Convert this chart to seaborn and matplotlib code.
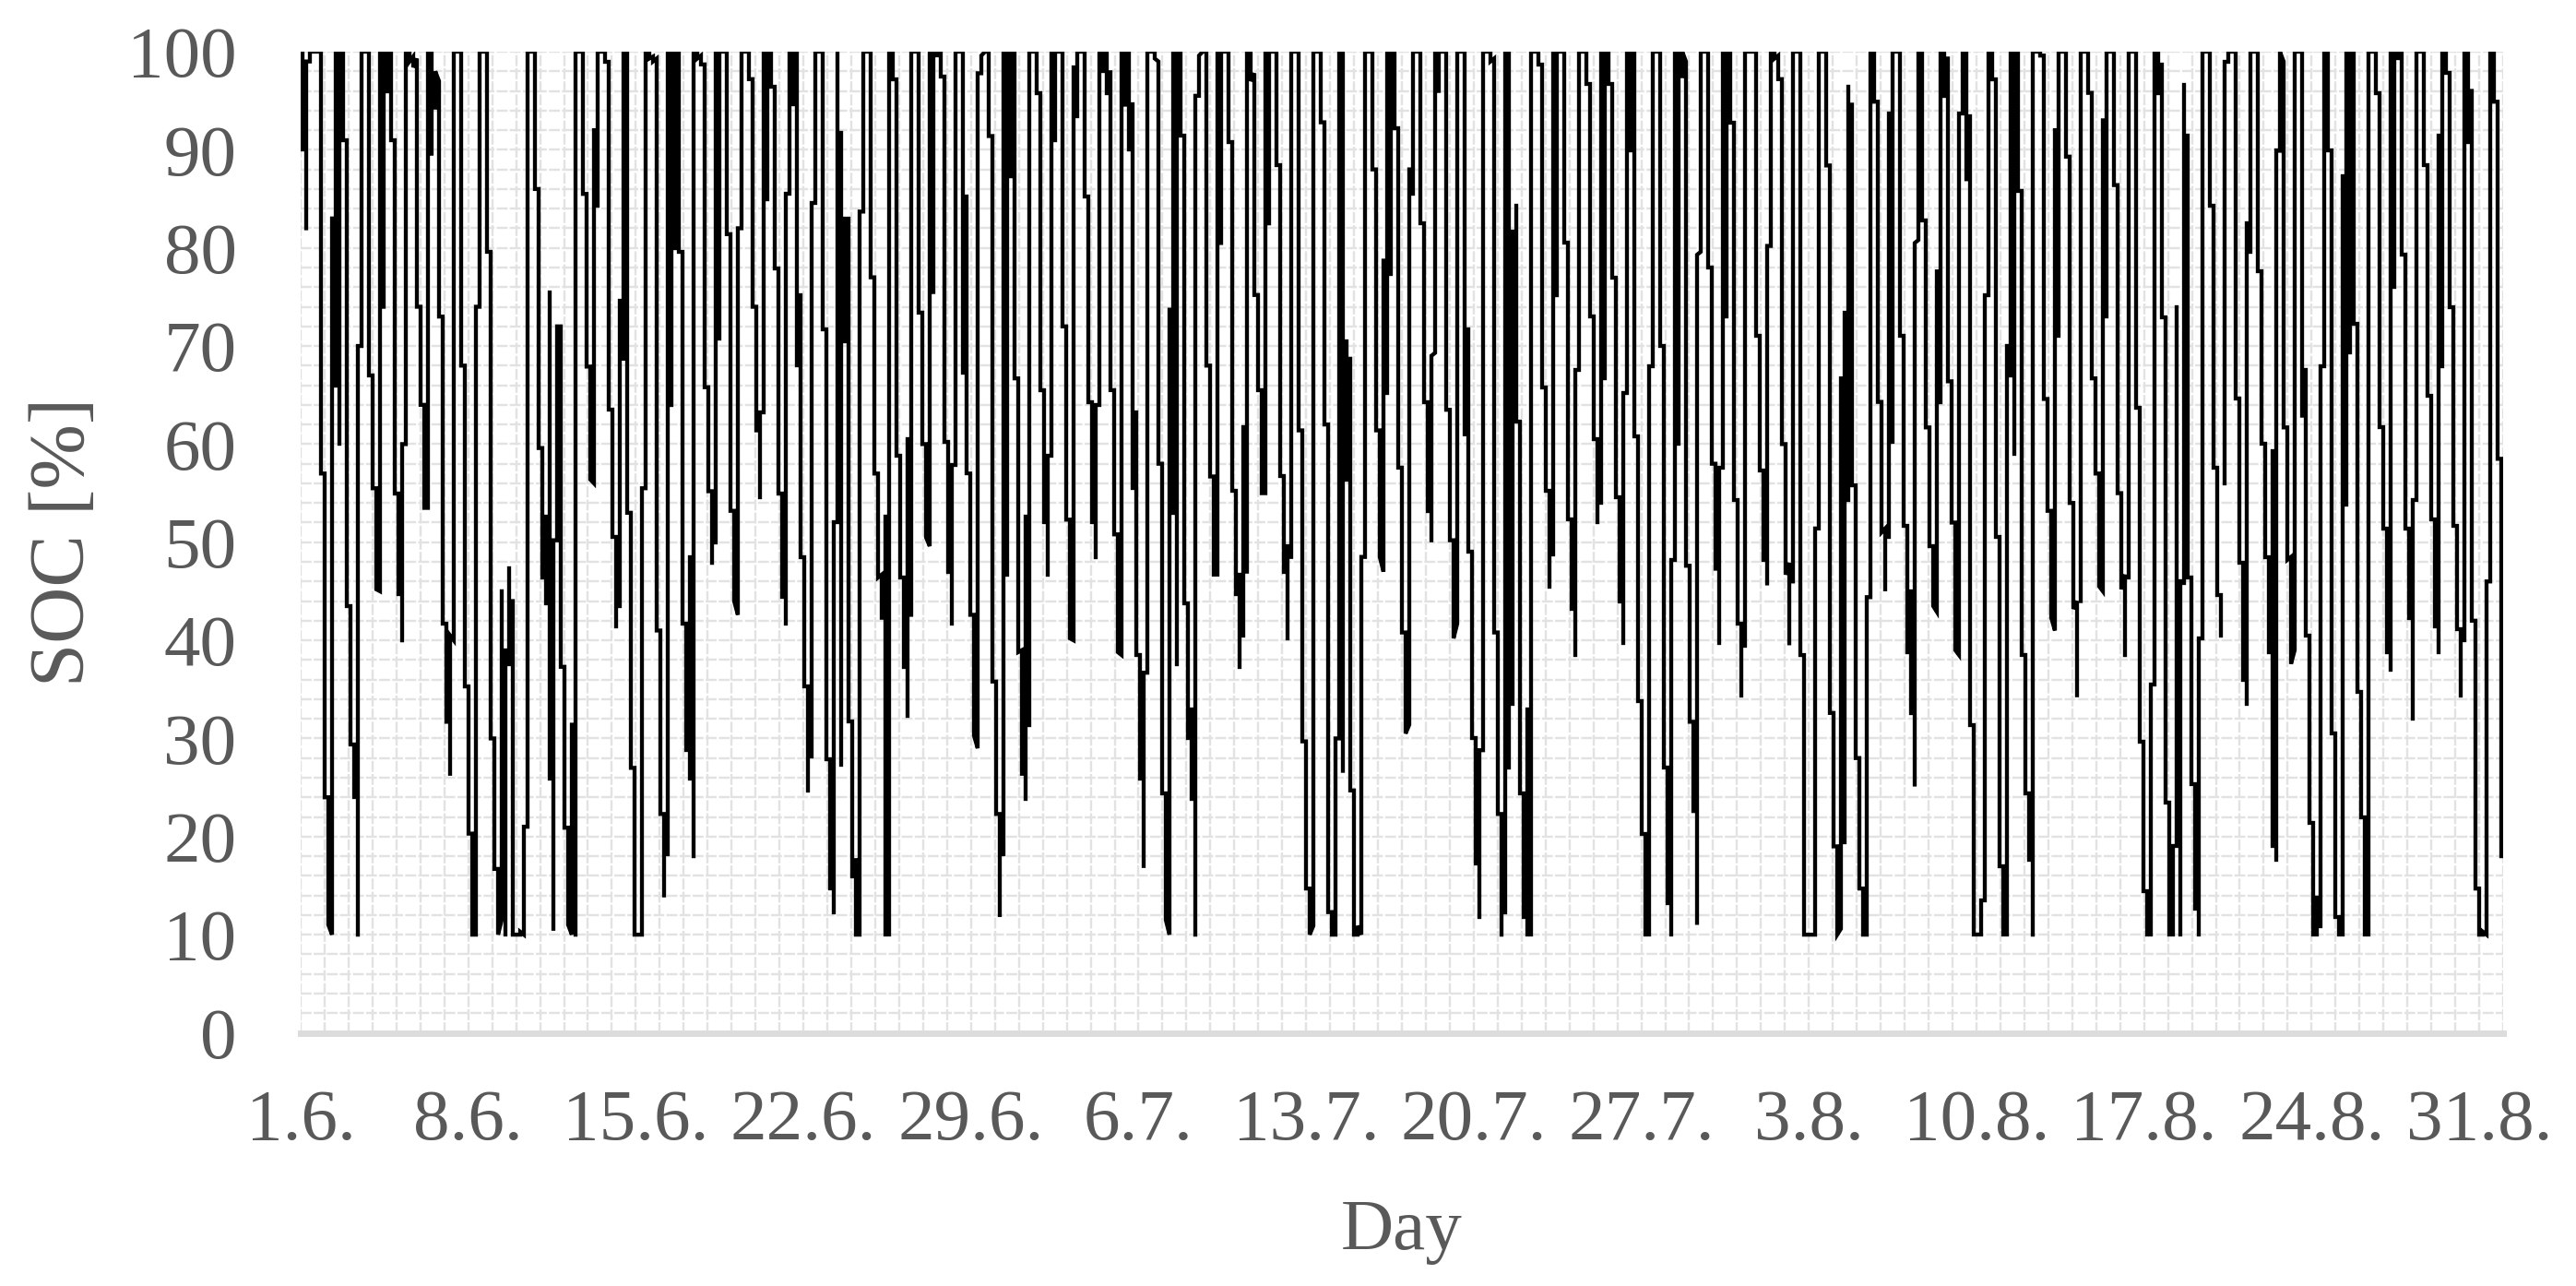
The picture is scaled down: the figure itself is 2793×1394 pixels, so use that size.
from matplotlib import pyplot as plt
import seaborn as sns
import pandas as pd

# SOC range covered by each pixel column of the curve
soc_high_jun = [
    100, 99, 100, 100, 100, 100, 57, 24, 83, 100,
    100, 100, 91, 43.5, 29.4, 70, 100, 100, 100, 67,
    55.5, 100, 100, 100, 100, 91, 55, 60, 100, 100,
    99.5, 99.3, 74, 64, 100, 100, 98, 97, 73, 41.7,
    40.5, 100, 100, 100, 68, 35.3, 20.3, 74, 100, 100,
    100, 79.6, 30, 16.7, 45, 39, 47.3, 44, 10, 10.3,
    21, 100, 100, 100, 86, 59.6, 52.6, 75.5, 50.2, 72,
    72, 37.3, 20.9, 31.4, 100, 100, 100, 85.5, 67.9, 92,
    100, 100, 100, 99, 63.5, 50.5, 74.6, 100, 100, 53,
    27, 10, 55.5, 100, 100, 99.5, 99.3, 41, 22.3, 100,
    100, 100, 100, 79.6, 41.7, 48.5, 100, 100, 99.6, 98.7,
    65.8, 55.2, 100, 100, 100, 100, 81.4, 53.2, 82, 100,
    100, 100, 97.2, 74, 63.2, 100, 100, 100, 96.4, 77.9,
    55, 85.5, 100, 100, 100, 75.2, 48.5, 35.3, 84.6, 100,
    100, 100, 71.7, 27.9, 52, 100, 91.7, 83, 83, 31.7,
    17.6, 83.7, 100, 100, 100, 77, 57, 46.7, 52.6, 100,
    100, 97.2, 58.8, 46.4, 60.5, 100, 100, 100, 73.4, 60,
    100, 100, 100, 100, 97.5, 60.2, 57.9, 100, 100, 100,
    85.2, 57, 42.6, 97.8, 99.6, 100, 100, 91.4, 35.8, 22.3,
    100, 100, 100, 100, 66.7,
]
soc_low_jun = [
    90, 82, 99, 100, 100, 57, 24, 11, 10, 66,
    60, 91, 43.5, 29.4, 24, 10, 70, 100, 67, 55.5,
    45.2, 45, 74, 96, 91, 55, 44.7, 40, 60, 99,
    98.4, 74, 64, 53.5, 53.5, 89.6, 94.3, 73, 41.7, 31.7,
    26.4, 40, 100, 68, 35.3, 20.3, 10, 10, 74, 100,
    79.6, 30, 16.7, 10, 11.5, 10, 37.6, 10, 10, 10,
    10, 21, 100, 86, 59.6, 46.4, 43.8, 25.9, 10.6, 50.2,
    37.3, 20.9, 11, 10, 10, 100, 85.5, 67.9, 56.4, 56,
    84.3, 100, 99, 63.5, 50.5, 41.4, 43.5, 68.7, 53, 27,
    10, 10, 10, 55.5, 99.3, 99, 41, 22.3, 14, 18.2,
    64, 80, 79.6, 41.7, 28.8, 25.9, 18, 99.3, 98.7, 65.8,
    55.2, 47.9, 50, 70.8, 100, 81.4, 53.2, 44, 42.6, 82,
    100, 97.2, 74, 61.4, 54.6, 63.2, 85, 96.4, 77.9, 55,
    44.4, 41.7, 85.5, 94.6, 68, 48.5, 35.3, 24.7, 28.2, 84.6,
    100, 71.7, 27.9, 14.7, 12.3, 52, 27.3, 70.5, 31.7, 15.9,
    10, 10, 83.7, 100, 77, 57, 46.4, 42.3, 10, 10,
    97.2, 58.8, 46.4, 37.3, 32.3, 42.6, 100, 73.4, 60, 50.5,
    49.6, 75.5, 99.6, 97.5, 60.2, 47, 41.7, 57.9, 100, 67.3,
    57, 42.6, 30.3, 29, 97.8, 100, 91.4, 35.8, 22.3, 12,
    18.2, 46.7, 87.3, 66.7, 38.8,
]
soc_high_jul = [
    39, 52.6, 100, 100, 100, 95.8, 65.5, 58.8, 100, 100,
    100, 100, 72, 52.3, 98.4, 100, 100, 100, 85.2, 64.3,
    64, 100, 100, 100, 97.9, 65.5, 50.8, 100, 100, 100,
    94.6, 63.2, 38.5, 36.7, 100, 100, 100, 99, 58, 24.4,
    73.7, 100, 100, 100, 91.4, 43.8, 33, 95.5, 99.6, 100,
    100, 68, 56.7, 100, 100, 100, 100, 90.8, 55.2, 46.7,
    61.7, 100, 100, 97.8, 75.2, 65.5, 100, 100, 100, 100,
    88.4, 56.7, 49.6, 100, 100, 100, 61.4, 29.7, 14.7, 100,
    100, 100, 92.8, 62, 12.3, 30, 100, 100, 70.5, 68.7,
    24.7, 10.9, 48.5, 100, 100, 100, 88, 61.4, 78.7, 100,
    100, 100, 92.2, 57.6, 40.8, 88, 100, 100, 100, 82.5,
    64.3, 69, 100, 100, 100, 100, 63.5, 50.2, 100, 100,
    100, 71.7, 49, 30, 28.8, 100, 100, 100, 99.3, 40.8,
    22.3, 100, 100, 81.7, 84.3, 62.3, 24.4, 33, 100, 100,
    100, 98.7, 65.8, 55.2, 100, 100, 100, 100, 80.5, 52.3,
    67.6, 100, 100, 100, 96.7, 73, 60.5, 100, 100, 100,
    96.7, 77, 54.6, 65.2, 100, 100, 100, 60.8, 33.8, 20.3,
    67.9, 100, 100, 100, 70, 27, 48.2, 100, 100, 100,
    99, 47.6, 31.7, 79.3, 100, 100, 100, 78, 58, 57.6,
    100, 100, 100, 92.8, 54.3, 41.7, 100, 100, 100, 100, 71,
]
soc_low_jul = [
    26.4, 23.8, 31.4, 100, 95.8, 65.5, 52, 46.7, 58.8, 91,
    100, 72, 52.3, 40.2, 40, 93.4, 100, 85.2, 64.3, 52,
    48.5, 64, 98, 95.8, 65.5, 50.8, 38.8, 38.5, 94.6, 90,
    55.5, 38.5, 25.9, 17, 36.7, 100, 99.3, 58, 24.4, 11.5,
    10, 53, 37.6, 91.4, 43.8, 30, 23.8, 10, 95.5, 100,
    68, 56.7, 46.7, 46.7, 80.5, 100, 90.8, 55.2, 44.7, 37.3,
    40.5, 47, 97, 75.2, 65.5, 55, 55, 82.5, 100, 88.4,
    56.7, 47, 40.2, 48.5, 100, 61.4, 29.7, 14.7, 10, 10.9,
    100, 92.8, 62, 12.3, 10, 10, 30, 26.7, 56.4, 24.7,
    10, 10, 10, 48.5, 100, 88, 61.4, 48.5, 47, 65.2,
    77.3, 92.2, 57.6, 40.8, 30.5, 31.4, 85.5, 100, 82.5, 64.3,
    53.2, 50.2, 69.3, 96, 100, 63.5, 50.2, 40.2, 41.7, 100,
    61, 49, 30, 17.3, 11.8, 28.8, 100, 99, 40.8, 22.3,
    10, 12.3, 27, 33.5, 62.3, 24.4, 11.8, 10, 10, 100,
    98.7, 65.8, 55.2, 45.5, 48.8, 75.2, 100, 80.5, 52.3, 43.2,
    38.5, 67.6, 100, 96.7, 73, 60.5, 52, 54, 66.7, 96.7,
    77, 54.6, 44, 39.7, 65.2, 89.9, 60.8, 33.8, 20.3, 10,
    10, 67.9, 100, 70, 27, 13.2, 10, 48.2, 60, 97.5,
    47.6, 31.7, 22.6, 11.2, 79.6, 100, 78, 58, 47.3, 39.7,
    57.6, 73, 92.8, 54.3, 41.7, 34.4, 39.4, 100, 100, 71, 57.3,
]
soc_high_aug = [
    57.3, 80.2, 100, 100, 99.6, 97.2, 60, 47.9, 100, 100,
    100, 38.5, 10, 10, 51.4, 100, 100, 100, 88.4, 32.6,
    19, 66.7, 73.4, 96.4, 94.6, 55.8, 28, 14.7, 44.4, 100,
    100, 94.9, 64.3, 51.4, 93.7, 100, 100, 100, 71, 51.7,
    45, 80.5, 100, 100, 82.8, 61.7, 49.6, 77.6, 100, 100,
    99.3, 66.4, 52, 93.7, 100, 100, 93.4, 31.4, 10, 13.5,
    75.2, 100, 100, 97.2, 50.5, 17, 70, 100, 100, 100,
    85.8, 38.5, 24.4, 100, 100, 100, 99.6, 64.6, 53.2, 92,
    100, 100, 100, 89.3, 54, 44, 100, 100, 100, 95.8,
    66.7, 57, 93, 100, 100, 100, 86.4, 55, 46.7, 100,
    100, 100, 63.7, 29.7, 14.4, 35.5, 100, 100, 98.7, 72.9,
    23.5, 19, 74, 46, 96.6, 91.4, 46.4, 25.3, 40.2, 100,
    100, 100, 84.3, 57.6, 44.6, 99, 100, 100, 100, 64.6,
    47.9, 82.5, 100, 100, 100, 77.6, 60, 48.5, 59.3, 89.9,
    100, 99, 61.7, 48.5, 100, 100, 100, 67.6, 40.5, 21.4,
    13.8, 67.9, 100, 100, 89.9, 30.5, 11.8, 87.3, 100, 100,
    100, 72.3, 34.7, 22, 100, 100, 100, 95.8, 61.7, 51.4,
    100, 100, 100, 100, 79.3, 51.4, 54.3, 100, 100, 100,
    88.4, 64.9, 52.3, 91.4, 100, 100, 97.8, 74, 51.7, 41.1,
    100, 100, 96, 42, 14.7, 10.3, 46, 100, 100, 94.9, 58.5,
]
soc_low_aug = [
    48.2, 45.8, 80.2, 99.3, 97.2, 60, 46.7, 39.7, 46, 100,
    38.5, 10, 10, 10, 10, 51.4, 100, 88.4, 32.6, 19,
    10, 10.6, 19.4, 54.3, 55.8, 28, 14.7, 10, 10, 44.4,
    94.9, 64.3, 51, 45.2, 50.5, 60.2, 100, 71, 51.7, 38.8,
    32.6, 25.3, 80.8, 82.8, 61.7, 49.6, 43.5, 42.9, 64.3, 95.5,
    66.4, 52, 39, 38.5, 93.7, 87, 31.4, 10, 10, 10,
    13.5, 75.2, 97.2, 50.5, 17, 10, 10, 67, 59, 85.8,
    38.5, 24.4, 17.6, 10, 100, 99.6, 64.6, 53.2, 42.3, 41,
    71, 100, 89.3, 54, 43.2, 34.4, 44, 100, 95.8, 66.7,
    57, 45.5, 45, 73, 100, 86.4, 55, 45.2, 38.5, 46.4,
    100, 63.7, 29.7, 14.4, 10, 10, 35.5, 95.8, 72.9, 23.5,
    10, 10, 19, 10, 45.8, 46.4, 25.3, 12.6, 10, 40.2,
    100, 84.3, 57.6, 44.6, 40.5, 56, 99, 100, 64.6, 47.9,
    36, 33.5, 79.6, 100, 77.6, 60, 48.5, 38.8, 19, 17.6,
    89.9, 61.7, 48.2, 37.6, 39, 100, 62.9, 40.5, 21.4, 10,
    10, 10.9, 67.9, 89.9, 30.5, 11.8, 10, 10, 53.8, 69.3,
    72.3, 34.7, 22, 10, 10, 100, 95.8, 61.7, 51.4, 38.8,
    37, 76, 99.3, 79.3, 51.4, 42.3, 32, 54.3, 100, 88.4,
    64.9, 52.3, 41.4, 38.8, 67.9, 97.8, 74, 51.7, 41.1, 34.4,
    40, 90.8, 42, 14.7, 10, 10, 10, 46, 94.9, 58.5, 18,
]
tick_labels = ["1.6.", "8.6.", "15.6.", "22.6.", "29.6.", "6.7.", "13.7.",
               "20.7.", "27.7.", "3.8.", "10.8.", "17.8.", "24.8.", "31.8."]
TOTAL_DAYS = 92

soc_high = soc_high_jun + soc_high_jul + soc_high_aug
soc_low = soc_low_jun + soc_low_jul + soc_low_aug
assert len(soc_high) == len(soc_low)
day_step = TOTAL_DAYS / len(soc_high)

# walk through the columns, entering each one at the end nearest to the last value;
# a new run starts where the next column does not continue from the last value
rows = []
last = soc_high[0]
run = 0
for i, (high, low) in enumerate(zip(soc_high, soc_low)):
    first, second = (high, low) if abs(high - last) <= abs(low - last) else (low, high)
    if abs(first - last) > 1.5:
        run += 1
    rows.append((run, (i + 0.5) * day_step, first))
    rows.append((run, (i + 0.5) * day_step, second))
    last = second
df = pd.DataFrame(rows, columns=["run", "day", "soc"])

# Background setting
sns.set_style('white')
plt.rcParams['font.family'] = ['Liberation Serif', 'DejaVu Serif']

W, H = 2793, 1394
fig = plt.figure(figsize=(W / 100, H / 100), dpi=100)
ax = fig.add_axes([326 / W, 1 - 1119.5 / H, (2714 - 326) / W, (1119.5 - 56) / H])

sns.lineplot(data=df, x="day", y="soc", units="run", estimator=None, sort=False, errorbar=None,
             color="black", linewidth=3.1, solid_joinstyle="miter",
             solid_capstyle="projecting", zorder=3, ax=ax)

ax.set_xlim(0, TOTAL_DAYS)
ax.set_ylim(0, 100)
ax.set_xticks(range(0, TOTAL_DAYS, 7))
ax.set_xticklabels(tick_labels)
ax.set_xticks(range(0, TOTAL_DAYS + 1), minor=True)
ax.set_yticks(range(0, 101, 10))
ax.set_yticks(range(0, 101, 2), minor=True)

grid_style = {'color': '#e2e2e2', 'linewidth': 1.7, 'linestyle': (0, (5, 1))}
ax.grid(True, which='both', **grid_style)
ax.set_axisbelow(True)

sns.despine(ax=ax, left=True, top=True, right=True)
ax.spines['bottom'].set_color('#dcdcdc')
ax.spines['bottom'].set_linewidth(5)

text_color = '#595959'
ax.tick_params(axis='both', which='both', length=0)
ax.tick_params(axis='x', which='major', labelsize=57, labelcolor=text_color, pad=44)
ax.tick_params(axis='y', which='major', labelsize=57, labelcolor=text_color, pad=50)
ax.set_xlabel("Day", fontsize=57, color=text_color, labelpad=34)
ax.set_ylabel("SOC [%]", fontsize=61, color=text_color, labelpad=21)

fig.savefig("out.png", dpi=100)
